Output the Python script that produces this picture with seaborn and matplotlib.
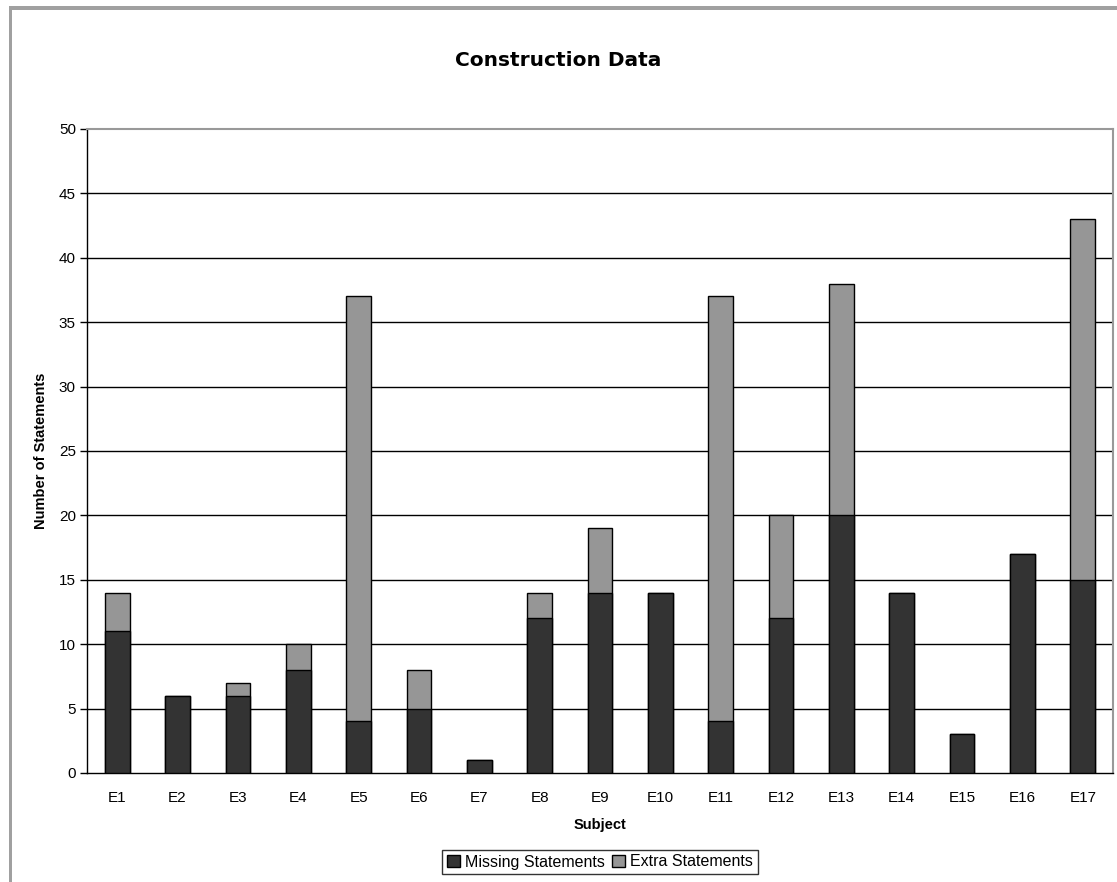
import matplotlib
matplotlib.use("Agg")
import matplotlib.pyplot as plt
import seaborn as sns
import pandas as pd
import numpy as np
from matplotlib.patches import Rectangle, Patch
from matplotlib.ticker import FixedLocator

subjects = ["E1", "E2", "E3", "E4", "E5", "E6", "E7", "E8", "E9", "E10",
            "E11", "E12", "E13", "E14", "E15", "E16", "E17"]
missing = [11, 6, 6, 8, 4, 5, 1, 12, 14, 14, 4, 12, 20, 14, 3, 17, 15]
extra = [3, 0, 1, 2, 33, 3, 0, 2, 5, 0, 33, 8, 18, 0, 0, 0, 28]
yticks = [0, 5, 10, 15, 20, 25, 30, 35, 40, 45, 50]

sns.set_style("white")
plt.rcParams['font.family'] = ['Liberation Sans', 'DejaVu Sans']
plt.rcParams['text.color'] = 'black'
plt.rcParams['axes.labelcolor'] = 'black'
plt.rcParams['xtick.color'] = 'black'
plt.rcParams['ytick.color'] = 'black'

df = pd.DataFrame({"Subject": subjects, "Missing": missing, "Extra": extra})
df["Total"] = df["Missing"] + df["Extra"]

fig = plt.figure(figsize=(11.17, 8.82), dpi=100)
ax = fig.add_axes([87/1117, 1 - 773/882, (1113 - 87)/1117, (773 - 129)/882])

dark = "#333333"
light = "#969696"

sns.barplot(data=df, x="Subject", y="Total", color=light, width=0.41,
            edgecolor="black", linewidth=1, saturation=1, ax=ax, zorder=3)
sns.barplot(data=df, x="Subject", y="Missing", color=dark, width=0.41,
            edgecolor="black", linewidth=1, saturation=1, ax=ax, zorder=4)

ax.set_xlim(-0.5, len(subjects) - 0.5)
ax.set_ylim(0, 50)
ax.set_yticks(yticks)
for y in yticks[1:-1]:
    ax.axhline(y, color="black", linewidth=1, zorder=1)

ax.xaxis.set_minor_locator(FixedLocator(np.arange(-0.5, len(subjects), 1)))
ax.tick_params(axis="x", which="major", length=0, pad=13, labelsize=11, labelcolor="black")
ax.tick_params(axis="x", which="minor", length=5, width=1, color="black", direction="out")
ax.tick_params(axis="y", length=5, width=1, color="black", direction="out", labelsize=11,
               pad=3, labelcolor="black")
ax.tick_params(axis="both", bottom=True, left=True)

for side in ["left", "bottom"]:
    ax.spines[side].set_color("black")
    ax.spines[side].set_linewidth(1)
for side in ["top", "right"]:
    ax.spines[side].set_color("#999999")
    ax.spines[side].set_linewidth(1.5)
    ax.spines[side].set_visible(True)

ax.set_xlabel("Subject", fontsize=10.5, fontweight="bold", labelpad=9, color="black")
ax.set_ylabel("Number of Statements", fontsize=10.5, fontweight="bold", labelpad=8, color="black")

fig.text(0.5, 1 - 60/882, "Construction Data", ha="center", va="center",
         fontsize=14.5, fontweight="heavy", family=["DejaVu Sans"], color="black")

handles = [Patch(facecolor=dark, edgecolor="black", label="Missing Statements"),
           Patch(facecolor=light, edgecolor="black", label="Extra Statements")]
leg = fig.legend(handles=handles, loc="center", bbox_to_anchor=(600/1117, 1 - 862/882),
                 ncol=2, frameon=True, fontsize=11.5, handlelength=0.8, handleheight=0.8,
                 handletextpad=0.3, columnspacing=0.5, borderpad=0.3, fancybox=False,
                 borderaxespad=0)
leg.get_frame().set_edgecolor("black")
leg.get_frame().set_linewidth(1)
for t in leg.get_texts():
    t.set_color("black")

# outer border (gray) on left and top
fig.patches.append(Rectangle((9/1117, 0), 3/1117, 1 - 6/882, transform=fig.transFigure,
                             facecolor="#a0a0a0", edgecolor="none"))
fig.patches.append(Rectangle((9/1117, 1 - 10/882), 1 - 9/1117, 4/882, transform=fig.transFigure,
                             facecolor="#a0a0a0", edgecolor="none"))

fig.savefig("out.png", dpi=100)
